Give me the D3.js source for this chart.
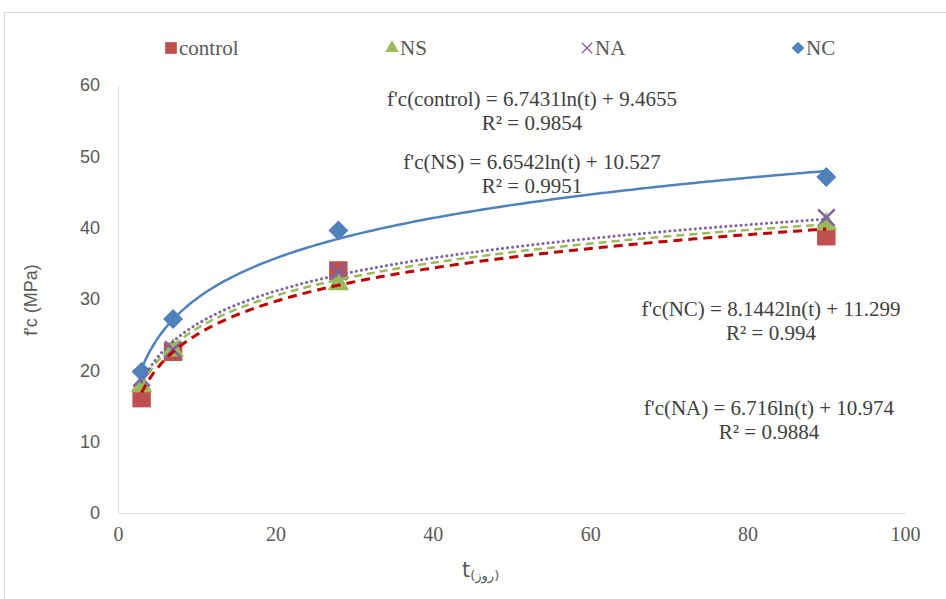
<!DOCTYPE html>
<html>
<head>
<meta charset="utf-8">
<script src="https://cdn.jsdelivr.net/npm/d3@7"></script>
<style>
  body { margin: 0; background: #fff; }
  svg { display: block; }
</style>
</head>
<body>
<div id="chart"></div>
<script>
// data
const days = [3, 7, 28, 90];
const seriesNames = ['control', 'NS', 'NA', 'NC'];
const controlValues = [16.1, 22.6, 34.0, 38.8];
const nsValues = [17.8, 22.8, 32.1, 40.5];
const naValues = [18.9, 22.9, 33.8, 41.4];
const ncValues = [19.8, 27.2, 39.6, 47.1];
// logarithmic trendline coefficients: a*ln(t) + b
const fitSlopes = [6.7431, 6.6542, 6.716, 8.1442];
const fitIntercepts = [9.4655, 10.527, 10.974, 11.299];
const fitLabels = [
  ["f'c(control) = 6.7431ln(t) + 9.4655", 'R² = 0.9854'],
  ["f'c(NS) = 6.6542ln(t) + 10.527", 'R² = 0.9951'],
  ["f'c(NA) = 6.716ln(t) + 10.974", 'R² = 0.9884'],
  ["f'c(NC) = 8.1442ln(t) + 11.299", 'R² = 0.994']
];
const xTicks = [0, 20, 40, 60, 80, 100];
const yTicks = [0, 10, 20, 30, 40, 50, 60];

const values = [controlValues, nsValues, naValues, ncValues];
const colors = ['#c0504d', '#9bbb59', '#8064a2', '#4f81bd'];
const lineColors = ['#c00000', '#9bbb59', '#8064a2', '#4f81bd'];
const lineDash = ['9,6', '8,5', '0.1,5', null];
const lineWidth = [3, 2.5, 3, 2.5];
const symbols = [d3.symbolSquare, d3.symbolTriangle, d3.symbolTimes, d3.symbolSquare];
const symbolSize = [340, 200, 180, 200];
const symbolRot = [0, 0, 0, 45];

const svg = d3.select('#chart').append('svg')
  .attr('width', 946)
  .attr('height', 599);

// chart border
svg.append('rect')
  .attr('x', 4.5).attr('y', 12.5)
  .attr('width', 960).attr('height', 610)
  .attr('fill', 'none')
  .attr('stroke', '#d9d9d9');

const x = d3.scaleLinear().domain([0, 100]).range([118, 905]);
const y = d3.scaleLinear().domain([0, 60]).range([513, 85]);

const gx = svg.append('g')
  .attr('transform', `translate(0,${y(0)})`)
  .call(d3.axisBottom(x).tickValues(xTicks).tickSize(0).tickPadding(14));
gx.select('.domain').attr('stroke', '#d9d9d9');
gx.selectAll('text')
  .style('font-family', '"Liberation Serif", serif')
  .style('font-size', '20px')
  .attr('fill', '#595959');

const gy = svg.append('g')
  .attr('transform', `translate(${x(0)},0)`)
  .call(d3.axisLeft(y).tickValues(yTicks).tickSize(0).tickPadding(18));
gy.select('.domain').attr('stroke', '#d9d9d9');
gy.selectAll('text')
  .style('font-family', '"Liberation Sans", sans-serif')
  .style('font-size', '18px')
  .attr('fill', '#595959');

// axis titles
svg.append('text')
  .attr('transform', 'translate(37,300) rotate(-90)')
  .attr('text-anchor', 'middle')
  .attr('font-family', 'Liberation Sans')
  .attr('font-size', '18px')
  .attr('fill', '#595959')
  .text("f'c (MPa)");

const xt = svg.append('text')
  .attr('x', 462).attr('y', 577)
  .attr('font-family', 'DejaVu Sans')
  .attr('font-size', '21px')
  .attr('fill', '#595959');
xt.append('tspan').text('t');
xt.append('tspan').attr('font-size', '13px').attr('dy', 3).text('(روز)');

// markers
seriesNames.forEach((name, i) => {
  svg.append('g').selectAll('path')
    .data(days.map((d, j) => [d, values[i][j]]))
    .enter().append('path')
    .attr('transform', d => `translate(${x(d[0])},${y(d[1])}) rotate(${symbolRot[i]})`)
    .attr('d', d3.symbol().type(symbols[i]).size(symbolSize[i]))
    .attr('fill', symbols[i] === d3.symbolTimes ? 'none' : colors[i])
    .attr('stroke', symbols[i] === d3.symbolTimes ? colors[i] : 'none')
    .attr('stroke-width', 2.5);
});

// trendlines
const tSamples = d3.range(3, 90.01, 0.5);
const line = d3.line().x(d => x(d[0])).y(d => y(d[1]));
seriesNames.forEach((name, i) => {
  svg.append('path')
    .datum(tSamples.map(t => [t, fitSlopes[i] * Math.log(t) + fitIntercepts[i]]))
    .attr('d', line)
    .attr('fill', 'none')
    .attr('stroke', lineColors[i])
    .attr('stroke-width', lineWidth[i])
    .attr('stroke-linecap', i === 2 ? 'round' : 'butt')
    .attr('stroke-dasharray', lineDash[i]);
});

// legend
const legendX = [171, 392, 587, 798];
const legend = svg.append('g');
seriesNames.forEach((name, i) => {
  legend.append('path')
    .attr('transform', `translate(${legendX[i]},48) rotate(${symbolRot[i]})`)
    .attr('d', d3.symbol().type(symbols[i]).size(symbolSize[i] * 0.4))
    .attr('fill', symbols[i] === d3.symbolTimes ? 'none' : colors[i])
    .attr('stroke', symbols[i] === d3.symbolTimes ? colors[i] : 'none')
    .attr('stroke-width', 1.3);
  legend.append('text')
    .attr('x', legendX[i] + 8).attr('y', 55)
    .attr('font-family', 'Liberation Serif')
    .attr('font-size', '21px')
    .attr('fill', '#595959')
    .text(name);
});

// trendline equations
const labelPos = [[532, 106], [532, 169], [769, 415], [771, 316]];
fitLabels.forEach((lbl, i) => {
  const t = svg.append('text')
    .attr('text-anchor', 'middle')
    .attr('font-family', 'Liberation Serif')
    .attr('font-size', '21px')
    .attr('fill', '#404040');
  t.append('tspan').attr('x', labelPos[i][0]).attr('y', labelPos[i][1]).text(lbl[0]);
  t.append('tspan').attr('x', labelPos[i][0]).attr('y', labelPos[i][1] + 24).text(lbl[1]);
});
</script>
</body>
</html>
